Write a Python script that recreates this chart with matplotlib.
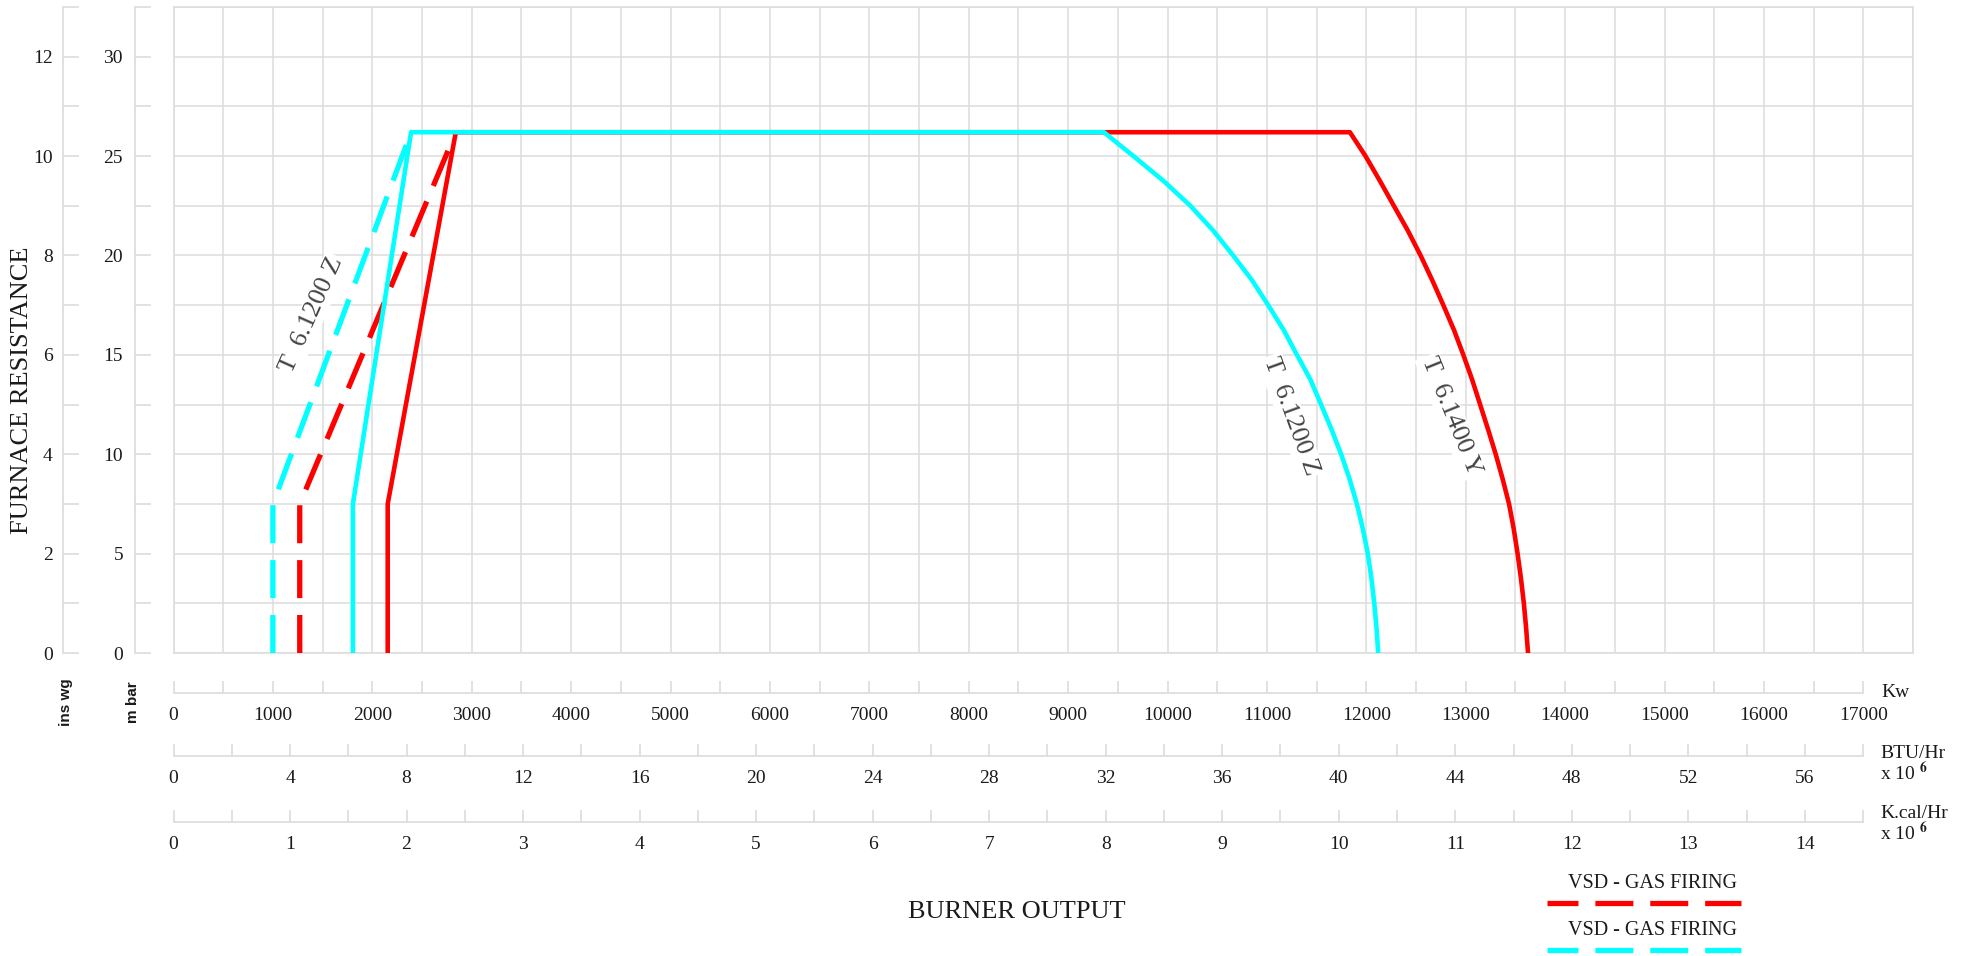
import numpy as np
import matplotlib
matplotlib.use('Agg')
import matplotlib.pyplot as plt
from matplotlib.ticker import MultipleLocator, FixedLocator
from matplotlib.lines import Line2D

plt.rcParams['font.family'] = ['Liberation Serif', 'DejaVu Serif']
plt.rcParams['mathtext.fontset'] = 'stix'

# ---------------- data (burner output in kW, furnace resistance in mbar) ----------------
red_kw = [2155, 2155, 2840, 11835, 11992, 12137, 12277, 12418, 12546, 12664, 12775, 12882,
          12976, 13065, 13145, 13225, 13302, 13372, 13436, 13483, 13522, 13556, 13585, 13608, 13627]
red_mbar = [0, 7.5, 26.2, 26.2, 25, 23.75, 22.5, 21.25, 20, 18.75, 17.5, 16.25,
            15, 13.75, 12.5, 11.25, 10, 8.75, 7.5, 6.25, 5, 3.75, 2.5, 1.25, 0]
red_dash_kw = [1270, 1270, 2840]
red_dash_mbar = [0, 7.5, 26.2]

cyan_kw = [1805, 1805, 2390, 9360, 9657, 9960, 10230, 10460, 10660, 10851, 11013, 11169,
           11302, 11438, 11545, 11650, 11747, 11832, 11905, 11965, 12015, 12052, 12080, 12103, 12120]
cyan_mbar = [0, 7.5, 26.2, 26.2, 25, 23.75, 22.5, 21.25, 20, 18.75, 17.5, 16.25,
             15, 13.75, 12.5, 11.25, 10, 8.75, 7.5, 6.25, 5, 3.75, 2.5, 1.25, 0]
cyan_dash_kw = [1000, 1000, 2390]
cyan_dash_mbar = [0, 7.5, 26.2]

# curve labels: text, kW, mbar, angle
curve_labels = [('T  6.1200 Z', 1390, 17.0, 66),
                ('T  6.1200 Z', 11242, 11.9, -70),
                ('T  6.1400 Y', 12852, 11.9, -68)]
legend_labels = ['VSD - GAS FIRING', 'VSD - GAS FIRING']

# axis scales
KW_MAX = 17500
MBAR_MAX = 32.5
INWG_MAX = 13
KW_PER_MBTU = 293.07
KW_PER_MKCAL = 4 * KW_PER_MBTU

kw_major = np.arange(0, 17001, 1000)
kw_minor = np.arange(500, 17000, 1000)
kw_labels = [str(v) for v in kw_major]
btu_major = np.arange(0, 57, 4)
btu_minor = np.arange(2, 59, 4)
btu_labels = [str(v) for v in btu_major]
kcal_major = np.arange(0, 15, 1)
kcal_minor = np.arange(0.5, 14.6, 1)
kcal_labels = [str(v) for v in kcal_major]

# ---------------- figure ----------------
W, H = 1971, 956
fig = plt.figure(figsize=(W / 100, H / 100), dpi=100)


def fx(px):
    return px / W


def fy(py):
    return 1 - py / H


X0, X1 = 173.5, 1913
Y0, Y1 = 653, 7
GRID = '#dcdcdc'
TXT = '#1a1a1a'
RED = '#ff0000'
CYAN = '#00ffff'
DASH = (0, (7.2, 3.2))

ax = fig.add_axes([fx(X0), fy(Y0), fx(X1) - fx(X0), fy(Y1) - fy(Y0)])
ax.set_xlim(0, KW_MAX)
ax.set_ylim(0, MBAR_MAX)
ax.xaxis.set_major_locator(MultipleLocator(500))
ax.yaxis.set_major_locator(MultipleLocator(2.5))
ax.tick_params(length=0, labelbottom=False, labelleft=False)
ax.grid(True, color=GRID, lw=1.1)
ax.set_axisbelow(True)
for s in ax.spines.values():
    s.set_color(GRID)
    s.set_linewidth(1.1)

ax.plot(red_kw, red_mbar, color=RED, lw=3.3, zorder=3)
ax.plot(red_dash_kw, red_dash_mbar, color=RED, lw=3.8, ls=DASH, zorder=3)
ax.plot(cyan_kw, cyan_mbar, color=CYAN, lw=3.3, zorder=4)
ax.plot(cyan_dash_kw, cyan_dash_mbar, color=CYAN, lw=3.8, ls=DASH, zorder=4)

for txt, kx, my, ang in curve_labels:
    ax.text(kx, my, txt, rotation=ang, ha='center', va='center', fontsize=19,
            color='#444444', zorder=2,
            bbox=dict(fc='white', ec='none', pad=1.5))


# ---------------- left pressure axes ----------------
def side_axis(xpx, top, major, minor, pad):
    a = fig.add_axes([fx(xpx), fy(Y0), 0.0005, fy(Y1) - fy(Y0)])
    a.set_ylim(0, top)
    a.patch.set_visible(False)
    for k in ('top', 'right', 'bottom'):
        a.spines[k].set_visible(False)
    a.spines['left'].set_color(GRID)
    a.spines['left'].set_linewidth(1.2)
    a.set_xticks([])
    a.yaxis.set_major_locator(MultipleLocator(major))
    a.yaxis.set_minor_locator(MultipleLocator(minor))
    a.tick_params(axis='y', which='both', direction='in', length=11.5, width=1.2,
                  color=GRID, pad=pad, labelsize=14, labelcolor=TXT)
    return a


side_axis(63, INWG_MAX, 2, 1, 7.5)
side_axis(135, MBAR_MAX, 5, 2.5, 8.6)


# ---------------- bottom output axes ----------------
def bottom_axis(ypx, conv, major, minor, labels, end):
    a = fig.add_axes([fx(X0), fy(ypx), fx(X1) - fx(X0), 0.0005])
    a.set_xlim(0, KW_MAX / conv)
    a.patch.set_visible(False)
    for k in ('top', 'right', 'left'):
        a.spines[k].set_visible(False)
    a.spines['bottom'].set_color(GRID)
    a.spines['bottom'].set_linewidth(1.2)
    a.spines['bottom'].set_bounds(0, end)
    a.set_yticks([])
    a.xaxis.set_major_locator(FixedLocator(major))
    a.xaxis.set_minor_locator(FixedLocator(minor))
    a.set_xticklabels(labels)
    a.tick_params(axis='x', which='both', direction='in', length=8.6, width=1.2,
                  color=GRID, pad=10, labelsize=14, labelcolor=TXT)
    return a


bottom_axis(692.7, 1, kw_major, kw_minor, kw_labels, 17000)
bottom_axis(756.3, KW_PER_MBTU, btu_major, btu_minor, btu_labels, 58)
bottom_axis(821.7, KW_PER_MKCAL, kcal_major, kcal_minor, kcal_labels, 14.5)

# unit labels
fig.text(fx(1881), fy(697.3), 'Kw', fontsize=14, color=TXT, va='baseline')
fig.text(fx(1880), fy(758.3), 'BTU/Hr', fontsize=14, color=TXT, va='baseline')
fig.text(fx(1880), fy(780), r'x 10 $^{\mathbf{6}}$', fontsize=14, color=TXT, va='baseline')
fig.text(fx(1880), fy(818.3), 'K.cal/Hr', fontsize=14, color=TXT, va='baseline')
fig.text(fx(1880), fy(840), r'x 10 $^{\mathbf{6}}$', fontsize=14, color=TXT, va='baseline')

fig.text(fx(66), fy(701.7), 'ins wg', rotation=90, ha='center', va='center',
         fontsize=11, fontweight='bold', family='Liberation Sans', color=TXT)
fig.text(fx(133), fy(701.7), 'm bar', rotation=90, ha='center', va='center',
         fontsize=11, fontweight='bold', family='Liberation Sans', color=TXT)

fig.text(fx(22), fy(390), 'FURNACE RESISTANCE', rotation=90, ha='center', va='center',
         fontsize=19, color=TXT)
fig.text(fx(1016.7), fy(918.3), 'BURNER OUTPUT', ha='center', va='baseline',
         fontsize=19, color=TXT)

# legend: label above a dashed sample
for (lab, col, ty, ly) in zip(legend_labels, [RED, CYAN], [888.3, 935], [902.7, 950]):
    fig.text(fx(1653), fy(ty), lab, ha='center', va='baseline', fontsize=14.5, color=TXT)
    fig.add_artist(Line2D([fx(1547), fx(1741)], [fy(ly), fy(ly)], transform=fig.transFigure,
                          color=col, lw=3.8, ls=(1.33, (7.2, 3.2))))

fig.savefig('out.png', dpi=100)
